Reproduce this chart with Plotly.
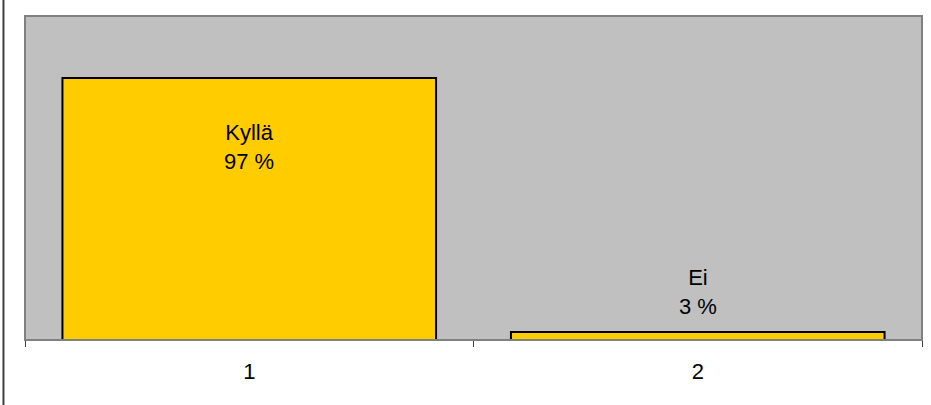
import plotly.graph_objects as go

categories = ["1", "2"]
answer_labels = ["Kyllä", "Ei"]
values = [97, 3]
value_texts = ["97 %", "3 %"]

FONT = "Liberation Sans, Arial, sans-serif"
FS = 22

fig = go.Figure()
fig.add_trace(go.Bar(
    x=categories,
    y=values,
    marker=dict(color="#FFCC00", line=dict(color="#000000", width=2)),
    hoverinfo="skip",
))

label_shifts = [-69, 40]
for i, (lab, val, txt, sh) in enumerate(zip(answer_labels, values, value_texts, label_shifts)):
    fig.add_annotation(
        x=i, y=val, xref="x", yref="y",
        text=f"{lab}<br>{txt}",
        showarrow=False, yanchor="middle", yshift=sh,
        font=dict(family=FONT, size=FS, color="#000000"),
    )

# plot-area border
fig.add_shape(type="rect", xref="paper", yref="paper", x0=0, x1=1, y0=0, y1=1,
              line=dict(color="#808080", width=2), layer="above")
# outer left border line
fig.add_shape(type="line", xref="paper", yref="paper", x0=-0.024, x1=-0.024, y0=-0.25, y1=1.1,
              line=dict(color="#404040", width=2))

fig.update_layout(
    width=931, height=405,
    margin=dict(l=25, r=9, t=16, b=65),
    paper_bgcolor="#FFFFFF",
    plot_bgcolor="#C0C0C0",
    bargap=0.167,
    showlegend=False,
    font=dict(family=FONT, size=FS, color="#000000"),
    xaxis=dict(
        type="category",
        range=[-0.5, 1.5],
        showline=True, linecolor="#000000", linewidth=1,
        ticks="outside", tickson="boundaries", ticklen=6, tickcolor="#404040",
        ticklabelstandoff=12,
        showgrid=False, zeroline=False,
        tickfont=dict(family=FONT, size=FS, color="#000000"),
    ),
    yaxis=dict(range=[0, 120], visible=False, showgrid=False, zeroline=False),
)

fig.write_html("out.html", config={"displayModeBar": False},
               post_script="document.body.style.margin='0';document.body.style.overflow='hidden';")
